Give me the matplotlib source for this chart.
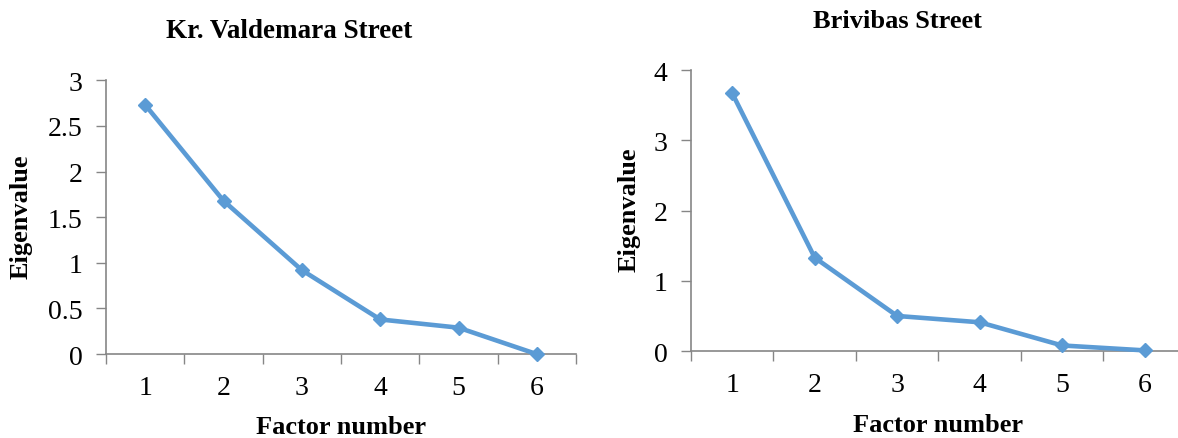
import numpy as np
import matplotlib
matplotlib.use("Agg")
import matplotlib.pyplot as plt
from matplotlib.ticker import FixedLocator

factors = [1, 2, 3, 4, 5, 6]
valdemara = [2.73, 1.68, 0.92, 0.38, 0.29, 0.0]
brivibas = [3.67, 1.33, 0.50, 0.41, 0.08, 0.01]
titles = ["Kr. Valdemara Street", "Brivibas Street"]

plt.rcParams['font.family'] = ['Liberation Serif', 'DejaVu Serif']

line_color = '#5B9BD5'
axis_color = '#868686'

fig = plt.figure(figsize=(11.78, 4.39), dpi=100)
# axes boxes in figure fraction (left, bottom, width, height)
ax1 = fig.add_axes([0.090, 0.191, 0.399, 0.624])
ax2 = fig.add_axes([0.5866, 0.198, 0.420, 0.640])


def style(ax, values, ymax, ystep):
    ax.plot(factors, values, color=line_color, lw=3.3, marker='D', ms=7.5,
            markeredgecolor=line_color, clip_on=False, zorder=3)
    ax.set_xlim(0.5, 6.5)
    ax.set_ylim(0, ymax)
    ax.set_yticks(np.arange(0, ymax + ystep / 2, ystep))
    ax.set_yticklabels([f"{v:g}" for v in np.arange(0, ymax + ystep / 2, ystep)])
    ax.set_xticks(factors)
    ax.xaxis.set_minor_locator(FixedLocator(np.arange(0.5, 7, 1)))
    ax.tick_params(axis='x', which='major', length=0, pad=15, labelsize=20)
    ax.tick_params(axis='x', which='minor', length=7, width=1, color=axis_color, direction='out')
    ax.tick_params(axis='y', length=7, width=1, color=axis_color, direction='out',
                   pad=10, labelsize=20)
    for s in ['top', 'right']:
        ax.spines[s].set_visible(False)
    for s in ['left', 'bottom']:
        ax.spines[s].set_color(axis_color)
        ax.spines[s].set_linewidth(1.2)
    ax.patch.set_alpha(0)


style(ax1, valdemara, 3, 0.5)
style(ax2, brivibas, 4, 1)

fig.text(289 / 1178, 1 - 32 / 439, titles[0], ha='center', va='center',
         fontsize=19.5, fontweight='bold')
fig.text(897 / 1178, 1 - 22 / 439, titles[1], ha='center', va='center',
         fontsize=19, fontweight='bold')

fig.text(21 / 1178, 1 - 217 / 439, "Eigenvalue", rotation=90, ha='center', va='center',
         fontsize=19, fontweight='bold')
fig.text(629 / 1178, 1 - 210 / 439, "Eigenvalue", rotation=90, ha='center', va='center',
         fontsize=19, fontweight='bold')
fig.text(341 / 1178, 1 - 428 / 439, "Factor number", ha='center', va='center',
         fontsize=19, fontweight='bold')
fig.text(938 / 1178, 1 - 426 / 439, "Factor number", ha='center', va='center',
         fontsize=19, fontweight='bold')

fig.savefig("out.png", dpi=100)
